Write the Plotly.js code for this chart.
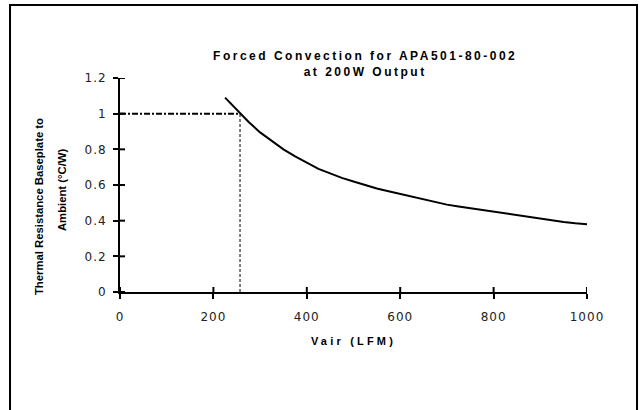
<!DOCTYPE html>
<html>
<head>
<meta charset="utf-8">
<script src="https://cdn.plot.ly/plotly-3.0.1.min.js"></script>
<style>
  html, body { margin: 0; padding: 0; background: #fff; }
  #chart { width: 640px; height: 410px; }
  .gtitle { letter-spacing: 2.5px; }
  .g-xtitle text { letter-spacing: 3.2px; }
  .xtick text, .ytick text { letter-spacing: 1px; }
</style>
</head>
<body>
<div id="chart"></div>
<script>
// Curve: Vair (LFM) vs thermal resistance (°C/W)
var vair = [225, 250, 275, 300, 325, 350, 375, 400, 425, 450, 475, 500, 525, 550, 575, 600,
            625, 650, 675, 700, 725, 750, 775, 800, 825, 850, 875, 900, 925, 950, 975, 1000];
var resistance = [1.09, 1.02, 0.955, 0.895, 0.845, 0.80, 0.76, 0.725, 0.69, 0.665, 0.64, 0.62, 0.60, 0.58, 0.565, 0.55,
                  0.535, 0.52, 0.505, 0.49, 0.48, 0.47, 0.46, 0.45, 0.44, 0.43, 0.42, 0.41, 0.40, 0.393, 0.385, 0.38];
// Reference (operating point) lines
var refVair = 257;
var refResistance = 1;
var xTicks = [0, 200, 400, 600, 800, 1000];
var yTicks = [0, 0.2, 0.4, 0.6, 0.8, 1, 1.2];
var yTickText = ['0', '0.2', '0.4', '0.6', '0.8', '1', '1.2'];

var traces = [
  { x: [0, refVair], y: [refResistance, refResistance], mode: 'lines', type: 'scatter',
    line: { color: '#000', width: 2, dash: '6px,2px,2px,2px' }, hoverinfo: 'skip', showlegend: false },
  { x: [refVair, refVair], y: [0, refResistance], mode: 'lines', type: 'scatter',
    line: { color: '#000', width: 1, dash: '3px,2px' }, hoverinfo: 'skip', showlegend: false },
  { x: vair, y: resistance, mode: 'lines', type: 'scatter',
    line: { color: '#000', width: 2 }, showlegend: false }
];

// Inner halves of the cross ticks (the outer halves are the axis ticks themselves)
var shapes = [];
xTicks.forEach(function (t) {
  shapes.push({ type: 'line', xref: 'x', yref: 'y', ysizemode: 'pixel', yanchor: 0,
                x0: t, x1: t, y0: 0, y1: 5, line: { color: '#000', width: 2 } });
});
yTicks.forEach(function (t) {
  shapes.push({ type: 'line', xref: 'x', yref: 'y', xsizemode: 'pixel', xanchor: 0,
                x0: 0, x1: 5, y0: t, y1: t, line: { color: '#000', width: 2 } });
});
// Outer chart border
shapes.push({ type: 'rect', xref: 'paper', yref: 'paper', x0: -0.2355, x1: 1.1071, y0: -0.58, y1: 1.3411,
              line: { color: '#000', width: 2 }, fillcolor: 'rgba(0,0,0,0)', layer: 'above' });

var tickFont = { family: 'DejaVu Sans, Verdana, sans-serif', size: 12, color: '#222' };
var layout = {
  width: 640, height: 410,
  margin: { l: 120, r: 53, t: 78, b: 118 },
  paper_bgcolor: '#fff', plot_bgcolor: '#fff',
  showlegend: false,
  title: {
    text: 'Forced Convection for APA501-80-002<br>at 200W Output',
    x: 0.525, xanchor: 'center', xref: 'paper',
    y: 0.853, yanchor: 'top',
    font: { family: 'Liberation Sans, Arial, sans-serif', size: 12, color: '#000', weight: 'bold' }
  },
  xaxis: {
    range: [0, 1000], tickvals: xTicks, ticktext: xTicks.map(String),
    showline: true, linecolor: '#000', linewidth: 2, zeroline: false, showgrid: false,
    ticks: 'outside', ticklen: 5, tickwidth: 2, tickcolor: '#000',
    ticklabelstandoff: 8, tickfont: tickFont,
    title: { text: 'Vair (LFM)', standoff: 14,
             font: { family: 'Liberation Sans, Arial, sans-serif', size: 11, color: '#000', weight: 'bold' } },
    fixedrange: true
  },
  yaxis: {
    range: [0, 1.2], tickvals: yTicks, ticktext: yTickText,
    showline: true, linecolor: '#000', linewidth: 2, zeroline: false, showgrid: false,
    ticks: 'outside', ticklen: 5, tickwidth: 2, tickcolor: '#000',
    ticklabelstandoff: 4, tickfont: tickFont,
    fixedrange: true
  },
  annotations: [
    { text: 'Thermal Resistance Baseplate to', xref: 'paper', yref: 'paper',
      x: -0.1734, y: 0.397, xanchor: 'center', yanchor: 'middle', textangle: -90, showarrow: false,
      font: { family: 'Liberation Sans, Arial, sans-serif', size: 11.3, color: '#000', weight: 'bold' } },
    { text: 'Ambient (°C/W)', xref: 'paper', yref: 'paper',
      x: -0.1242, y: 0.481, xanchor: 'center', yanchor: 'middle', textangle: -90, showarrow: false,
      font: { family: 'Liberation Sans, Arial, sans-serif', size: 11.3, color: '#000', weight: 'bold' } }
  ],
  shapes: shapes
};

Plotly.newPlot('chart', traces, layout, { displayModeBar: false, staticPlot: true });
</script>
</body>
</html>
